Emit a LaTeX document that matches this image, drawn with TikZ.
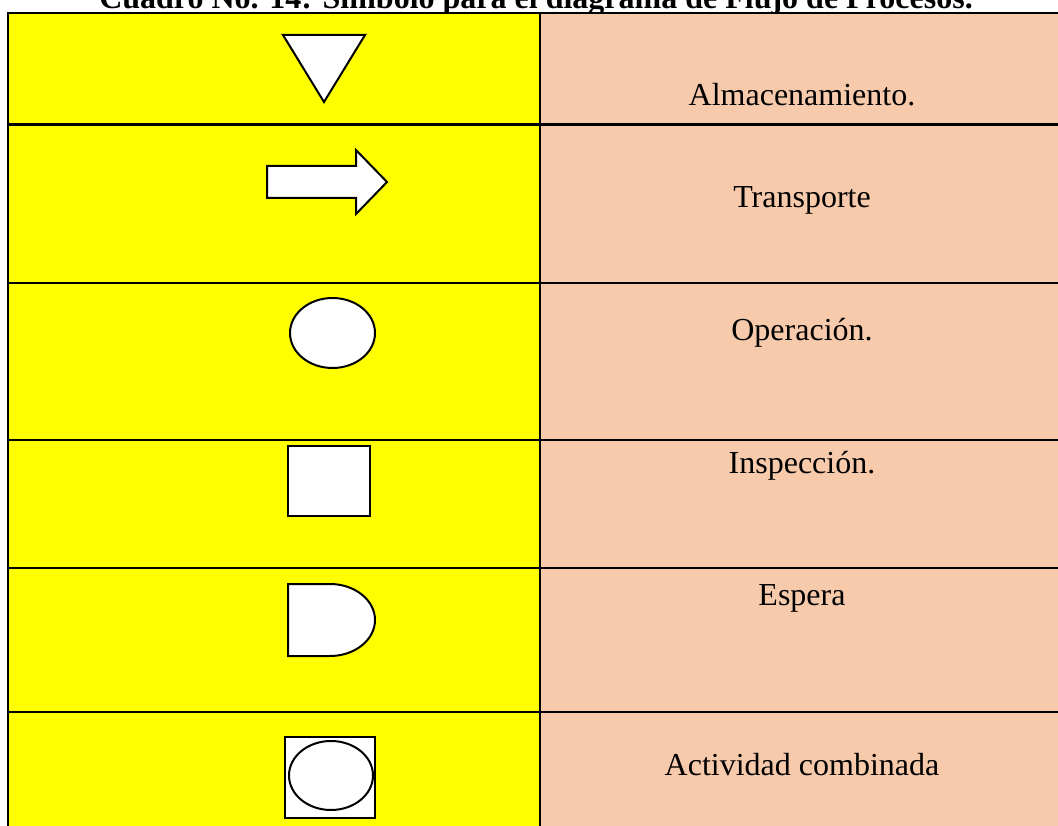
\documentclass[tikz,border=0pt]{standalone}
\usepackage{fontspec}
\setmainfont{Liberation Serif}
\definecolor{cellyellow}{HTML}{FFFF00}
\definecolor{cellpeach}{HTML}{F7CAAC}
\tikzset{
  gridline/.style={line width=2.5pt, line cap=rect},
  symbolshape/.style={draw=black, fill=white, line width=2pt, line join=miter},
  celltext/.style={anchor=base, inner sep=0pt, font=\fontsize{32}{38}\selectfont},
  titletext/.style={anchor=base, inner sep=0pt, font=\fontsize{32}{38}\selectfont\bfseries}
}
\begin{document}
\begin{tikzpicture}[x=1pt,y=-1pt]
\useasboundingbox (0,0) rectangle (1058,826);
\clip (0,0) rectangle (1058,826);
\fill[white] (0,0) rectangle (1058,826);
% title (partly cut off at the top)
\node[titletext] (title) at (536,9) {Cuadro No. 14: Símbolo para el diagrama de Flujo de Procesos.};
% cells
\fill[cellyellow] (8,13) rectangle (540,840);
\fill[cellpeach] (540,13) rectangle (1080,840);
% grid
\foreach \yy in {13,124.5,283,440,568,712}{
  \draw[gridline] (8,\yy) -- (1080,\yy);
}
\draw[gridline] (8,13) -- (8,840);
\draw[gridline] (540,13) -- (540,840);
% symbols
\draw[symbolshape] (283,35) -- (365,35) -- (324,102) -- cycle;
\draw[symbolshape] (267,166) -- (356,166) -- (356,150) -- (387,182) -- (356,214) -- (356,198) -- (267,198) -- cycle;
\draw[symbolshape] (332.5,333) ellipse [x radius=42.5pt, y radius=35pt];
\draw[symbolshape] (288,446) rectangle (370,516);
\draw[symbolshape] (288,584) -- (330,584) arc (90:-90:45pt and 36pt) -- (288,656) -- cycle;
\draw[symbolshape] (285,737) rectangle (375,818);
\draw[symbolshape] (331,775.5) ellipse [x radius=42pt, y radius=34.5pt];
% labels
\node[celltext] (t1) at (802,106) {Almacenamiento.};
\node[celltext] (t2) at (802,208) {Transporte};
\node[celltext] (t3) at (802,341) {Operación.};
\node[celltext] (t4) at (802,473) {Inspección.};
\node[celltext] (t5) at (802,605) {Espera};
\node[celltext] (t6) at (802,775) {Actividad combinada};
\end{tikzpicture}
\end{document}
